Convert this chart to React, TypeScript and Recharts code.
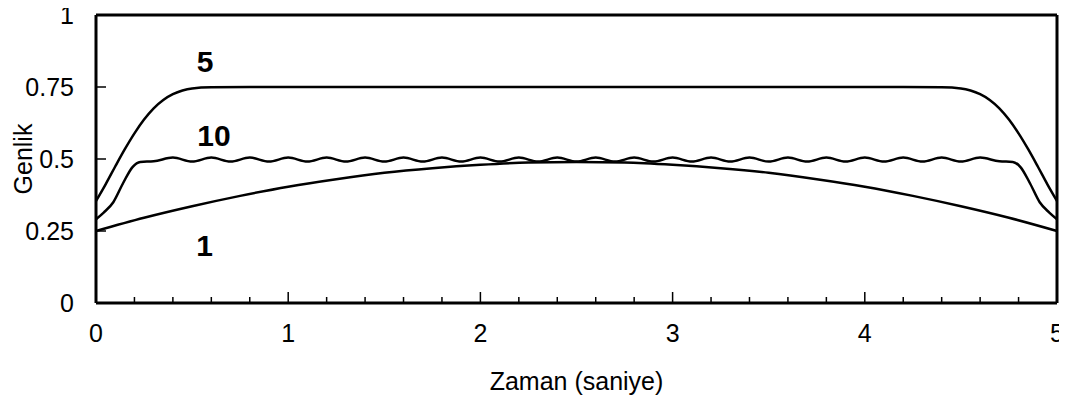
import { LineChart, Line, XAxis, YAxis, ReferenceLine, ReferenceDot } from 'recharts'

const FONT = 'Liberation Sans, Arial, sans-serif'

// x ticks every 0.2 s, labels only on whole seconds
const timeTicks = [0, 0.2, 0.4, 0.6, 0.8, 1, 1.2, 1.4, 1.6, 1.8, 2, 2.2, 2.4, 2.6, 2.8, 3, 3.2, 3.4, 3.6, 3.8, 4, 4.2, 4.4, 4.6, 4.8, 5]
const timeLabels = [0, 1, 2, 3, 4, 5]
const ampTicks = [0, 0.25, 0.5, 0.75, 1]
const ampLabels = ['0', '0.25', '0.5', '0.75', '1']

// curve "1"
const t1 = [0, 0.25, 0.5, 0.75, 1, 1.25, 1.5, 1.75, 2, 2.25, 2.5, 2.75, 3, 3.25, 3.5, 3.75, 4, 4.25, 4.5, 4.75, 5]
const g1 = [0.25, 0.296, 0.336, 0.372, 0.404, 0.43, 0.452, 0.468, 0.48, 0.488, 0.49, 0.488, 0.48, 0.468, 0.452, 0.43, 0.404, 0.372, 0.336, 0.296, 0.25]

// curve "5"
const t5 = [
  0, 0.05, 0.1, 0.15, 0.2, 0.25, 0.3, 0.35, 0.4, 0.45, 0.5, 0.6, 0.8,
  1.2, 1.6, 2, 2.5, 3, 3.4, 3.8,
  4.2, 4.4, 4.5, 4.55, 4.6, 4.65, 4.7, 4.75, 4.8, 4.85, 4.9, 4.95, 5,
]
const g5 = [
  0.354, 0.412, 0.474, 0.534, 0.589, 0.637, 0.676, 0.705, 0.725, 0.738, 0.745, 0.749, 0.75,
  0.75, 0.75, 0.75, 0.75, 0.75, 0.75, 0.75,
  0.75, 0.749, 0.745, 0.738, 0.725, 0.705, 0.676, 0.637, 0.589, 0.534, 0.474, 0.412, 0.354,
]

// curve "10" (small ripple on the plateau)
const t10 = [
  0, 0.04, 0.09, 0.14, 0.19, 0.23,
  0.3, 0.4, 0.5, 0.6, 0.7, 0.8, 0.9, 1, 1.1, 1.2, 1.3, 1.4, 1.5, 1.6, 1.7,
  1.8, 1.9, 2, 2.1, 2.2, 2.3, 2.4, 2.5, 2.6, 2.7, 2.8, 2.9, 3, 3.1, 3.2,
  3.3, 3.4, 3.5, 3.6, 3.7, 3.8, 3.9, 4, 4.1, 4.2, 4.3, 4.4, 4.5, 4.6, 4.7,
  4.77, 4.81, 4.86, 4.91, 4.96, 5,
]
const g10 = [
  0.291, 0.314, 0.35, 0.415, 0.472, 0.49,
  0.492, 0.505, 0.491, 0.505, 0.491, 0.505, 0.491, 0.505, 0.491, 0.505, 0.491, 0.505, 0.491, 0.505, 0.491,
  0.505, 0.491, 0.505, 0.491, 0.505, 0.491, 0.505, 0.491, 0.505, 0.491, 0.505, 0.491, 0.505, 0.491, 0.505,
  0.491, 0.505, 0.491, 0.505, 0.491, 0.505, 0.491, 0.505, 0.491, 0.505, 0.491, 0.505, 0.491, 0.505, 0.492,
  0.49, 0.472, 0.415, 0.35, 0.314, 0.291,
]

// curve name tags, placed in data units
const tagNames = ['5', '10', '1']
const tagT = [0.567, 0.614, 0.565]
const tagG = [0.84, 0.583, 0.201]

const zip = (ts: number[], gs: number[]) => ts.map((t, i) => ({ t, g: gs[i] }))

const series = [
  { key: 'c1', data: zip(t1, g1) },
  { key: 'c5', data: zip(t5, g5) },
  { key: 'c10', data: zip(t10, g10) },
]

const XTick = ({ x, y, payload }: any) => {
  const major = timeLabels.includes(payload.value)
  return (
    <g>
      <line x1={x} x2={x} y1={y} y2={y - (major ? 11 : 6)} stroke="#000" strokeWidth={1.5} />
      {major && (
        <text x={x} y={y + 30.5} dy="0.355em" textAnchor="middle" fontSize={25} fontFamily={FONT} fill="#000">
          {payload.value}
        </text>
      )}
    </g>
  )
}

const YTick = ({ x, y, payload }: any) => (
  <g>
    <line x1={x} x2={x + 10} y1={y} y2={y} stroke="#000" strokeWidth={1.5} />
    <text x={x - 22} y={y} dy="0.355em" textAnchor="end" fontSize={25} fontFamily={FONT} fill="#000">
      {ampLabels[ampTicks.indexOf(payload.value)]}
    </text>
  </g>
)

export default function App() {
  return (
    <div style={{ margin: -8 }}>
      <LineChart width={1067} height={403} margin={{ top: 15, right: 10, left: 0, bottom: 0 }}>
        <XAxis
          dataKey="t"
          type="number"
          domain={[0, 5]}
          ticks={timeTicks}
          interval={0}
          height={100}
          tickSize={0}
          tickMargin={0}
          tickLine={false}
          tick={<XTick />}
          axisLine={{ stroke: '#000', strokeWidth: 3 }}
          label={{
            content: ({ viewBox }: any) => (
              <text x={viewBox.x + viewBox.width / 2} y={viewBox.y + 86.5} textAnchor="middle" fontSize={25} fontFamily={FONT} fill="#000">
                Zaman (saniye)
              </text>
            ),
          }}
        />
        <YAxis
          type="number"
          domain={[0, 1]}
          ticks={ampTicks}
          interval={0}
          width={96}
          tickSize={0}
          tickMargin={0}
          tickLine={false}
          tick={<YTick />}
          axisLine={{ stroke: '#000', strokeWidth: 3 }}
          label={{
            content: ({ viewBox }: any) => {
              const cx = viewBox.x + 31.5
              const cy = viewBox.y + viewBox.height / 2
              return (
                <text x={cx} y={cy} transform={`rotate(-90, ${cx}, ${cy})`} textAnchor="middle" fontSize={25} fontFamily={FONT} fill="#000">
                  Genlik
                </text>
              )
            },
          }}
        />
        {series.map((s) => (
          <Line
            key={s.key}
            data={s.data}
            dataKey="g"
            type="monotone"
            stroke="#000"
            strokeWidth={2.5}
            dot={false}
            activeDot={false}
            isAnimationActive={false}
          />
        ))}
        <ReferenceLine y={1} stroke="#000" strokeWidth={3} />
        <ReferenceLine x={5} stroke="#000" strokeWidth={3} />
        {tagNames.map((name, i) => (
          <ReferenceDot
            key={name}
            x={tagT[i]}
            y={tagG[i]}
            r={0}
            stroke="none"
            fill="none"
            label={{ value: name, position: 'center', fontSize: 30, fontWeight: 'bold', fontFamily: FONT, fill: '#000' }}
          />
        ))}
      </LineChart>
    </div>
  )
}
